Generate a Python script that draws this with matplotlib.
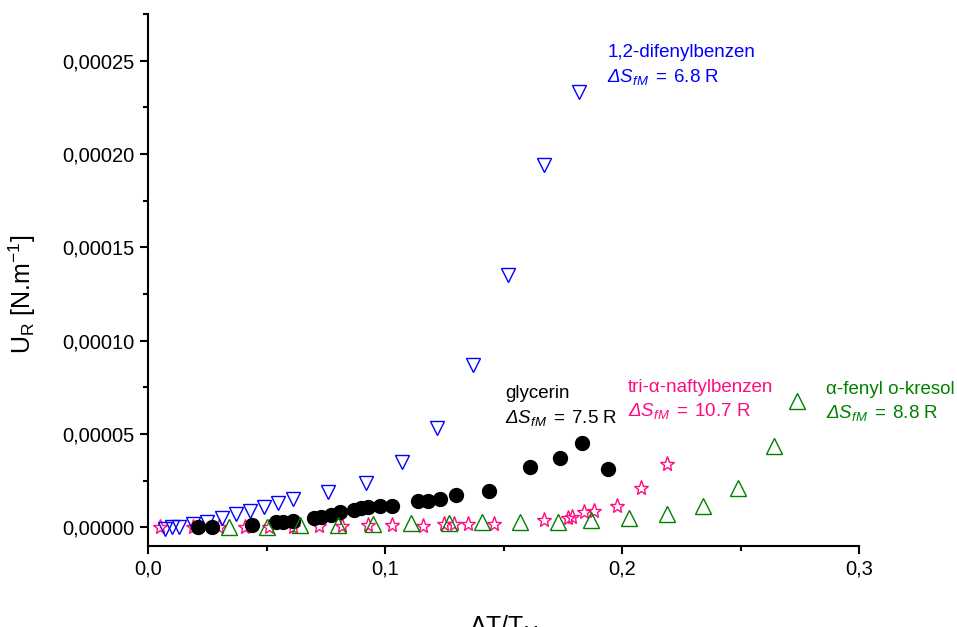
import matplotlib
matplotlib.use("Agg")
import matplotlib.pyplot as plt
from matplotlib.ticker import MultipleLocator, FuncFormatter

plt.rcParams['font.family'] = 'Liberation Sans'
plt.rcParams['mathtext.fontset'] = 'custom'
plt.rcParams['mathtext.rm'] = 'Liberation Sans'
plt.rcParams['mathtext.it'] = 'Liberation Sans:italic'
plt.rcParams['mathtext.default'] = 'regular'

# 1,2-difenylbenzen
dif_x = [0.007, 0.010, 0.013, 0.019, 0.025, 0.031, 0.037, 0.043, 0.049, 0.055,
         0.061, 0.076, 0.092, 0.107, 0.122, 0.137, 0.152, 0.167, 0.182]
dif_y = [-0.1, 0.0, 0.0, 0.2, 0.3, 0.5, 0.7, 0.9, 1.1, 1.3,
         1.5, 1.9, 2.4, 3.5, 5.3, 8.7, 13.5, 19.4, 23.3]

# glycerin
gly_x = [0.021, 0.027, 0.044, 0.054, 0.057, 0.061, 0.070, 0.073, 0.077, 0.081,
         0.087, 0.090, 0.093, 0.098, 0.103, 0.114, 0.118, 0.123, 0.130, 0.144,
         0.161, 0.174, 0.183, 0.194]
gly_y = [0.0, 0.0, 0.11, 0.27, 0.27, 0.32, 0.48, 0.53, 0.64, 0.80,
         0.91, 1.02, 1.07, 1.12, 1.12, 1.39, 1.39, 1.50, 1.71, 1.92,
         3.21, 3.74, 4.54, 3.15]

# tri-alfa-naftylbenzen
tri_x = [0.005, 0.019, 0.030, 0.041, 0.051, 0.061, 0.072, 0.082, 0.093, 0.103,
         0.116, 0.125, 0.129, 0.135, 0.146, 0.167, 0.177, 0.179, 0.184, 0.188,
         0.198, 0.208, 0.219]
tri_y = [0.0, 0.0, 0.0, 0.0, 0.0, 0.0, 0.05, 0.05, 0.11, 0.11,
         0.05, 0.16, 0.16, 0.16, 0.16, 0.37, 0.48, 0.53, 0.80, 0.85,
         1.12, 2.08, 3.37]

# alfa-fenyl o-kresol
kre_x = [0.034, 0.050, 0.064, 0.080, 0.095, 0.111, 0.127, 0.141, 0.157, 0.173,
         0.187, 0.203, 0.219, 0.234, 0.249, 0.264, 0.274]
kre_y = [0.0, 0.0, 0.11, 0.11, 0.16, 0.21, 0.21, 0.27, 0.27, 0.27,
         0.37, 0.48, 0.69, 1.12, 2.08, 4.33, 6.78]

scale = 1e-5
blue = '#0000FF'
pink = '#FF0A80'
green = '#008000'

fig = plt.figure(figsize=(9.57, 6.27), dpi=100)
ax = fig.add_axes([0.1547, 0.1292, 0.743, 0.8485])

ax.plot(tri_x, [v * scale for v in tri_y], ls='none', marker='*', ms=11,
        mfc='none', mec=pink, mew=1.0)
ax.plot(dif_x, [v * scale for v in dif_y], ls='none', marker='v', ms=10.5,
        mfc='none', mec=blue, mew=1.0)
ax.plot(gly_x, [v * scale for v in gly_y], ls='none', marker='o', ms=10,
        mfc='black', mec='black')
ax.plot(kre_x, [v * scale for v in kre_y], ls='none', marker='^', ms=11,
        mfc='none', mec=green, mew=1.0)

ax.set_xlim(0, 0.3)
ax.set_ylim(-1e-5, 2.75e-4)

for side in ('top', 'right'):
    ax.spines[side].set_visible(False)
for side in ('left', 'bottom'):
    ax.spines[side].set_linewidth(1.5)

ax.xaxis.set_major_locator(MultipleLocator(0.1))
ax.xaxis.set_minor_locator(MultipleLocator(0.05))
ax.yaxis.set_major_locator(MultipleLocator(5e-5))
ax.yaxis.set_minor_locator(MultipleLocator(2.5e-5))
ax.xaxis.set_major_formatter(FuncFormatter(lambda v, p: f'{v:.1f}'.replace('.', ',')))
ax.yaxis.set_major_formatter(FuncFormatter(lambda v, p: f'{v:.5f}'.replace('.', ',')))
ax.tick_params(which='major', direction='out', length=6, width=1.5, labelsize=14.5)
ax.tick_params(which='minor', direction='out', length=3.5, width=1.5)

ax.set_ylabel('U$_R$ [N.m$^{-1}$]', fontsize=18)
ax.yaxis.set_label_coords(-0.155, 0.474)
ax.set_xlabel(r'$\Delta$T/T$_M$', fontsize=18)
ax.xaxis.set_label_coords(0.5, -0.127)


def entropy_label(value):
    # italic delta comes from the plain-text part, the rest from mathtext
    return r'Δ$\mathit{S_{fM}}$$\mathrm{\;=\;' + value + r'\ R}$'


fs = 13.5
ax.text(0.1937, 25.21e-5, '1,2-difenylbenzen', color=blue, fontsize=fs, va='baseline')
ax.text(0.1937, 23.88e-5, entropy_label('6.8'), color=blue, fontsize=fs,
        style='italic', va='baseline')
ax.text(0.1506, 6.94e-5, 'glycerin', color='black', fontsize=fs, va='baseline')
ax.text(0.1506, 5.61e-5, entropy_label('7.5'), color='black', fontsize=fs,
        style='italic', va='baseline')
ax.text(0.2025, 7.26e-5, 'tri-α-naftylbenzen', color=pink, fontsize=fs, va='baseline')
ax.text(0.2025, 5.98e-5, entropy_label('10.7'), color=pink, fontsize=fs,
        style='italic', va='baseline')
ax.text(0.2861, 7.16e-5, 'α-fenyl o-kresol', color=green, fontsize=fs, va='baseline')
ax.text(0.2861, 5.88e-5, entropy_label('8.8'), color=green, fontsize=fs,
        style='italic', va='baseline')

fig.savefig('out.png', dpi=100)
